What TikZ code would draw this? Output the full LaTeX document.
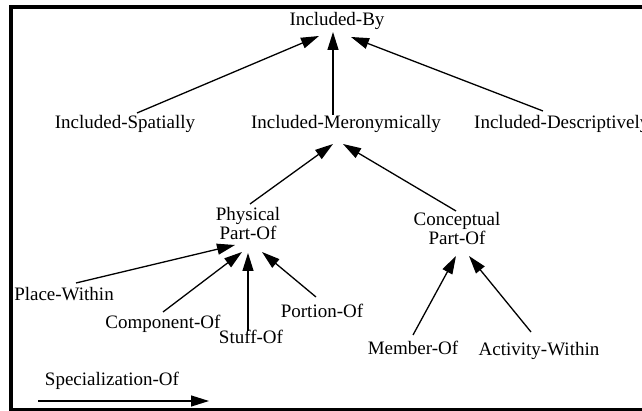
\documentclass[tikz,border=0pt]{standalone}
\usepackage{fontspec}
\setmainfont{Liberation Serif}
\usetikzlibrary{arrows.meta}
\begin{document}
\begin{tikzpicture}[x=1pt,y=1pt,
  lbl/.style={inner sep=0pt, font=\fontsize{19}{19}\selectfont},
  twoline/.style={lbl, align=center},
  isa/.style={-{Triangle[length=18pt,width=11pt]}, line width=1.3pt},
  frame/.style={line width=4pt}]
\useasboundingbox (0,0) rectangle (642,411);
\clip (0,0) rectangle (642,411);

% outer frame (runs past the right edge)
\draw[frame] (11,404) rectangle (700,1);

% hierarchy labels
\node[lbl, anchor=base] (by) at (337,385) {Included-By};
\node[lbl, anchor=base] (sp) at (125,282) {Included-Spatially};
\node[lbl, anchor=base] (mer) at (346,282) {Included-Meronymically};
\node[lbl, anchor=base west] (desc) at (474,282) {Included-Descriptively};
\node[twoline] (phys) at (248,187) {Physical\\Part-Of};
\node[twoline] (conc) at (457,182) {Conceptual\\Part-Of};
\node[lbl, anchor=base] (place) at (64,110) {Place-Within};
\node[lbl, anchor=base] (comp) at (163,82) {Component-Of};
\node[lbl, anchor=base] (stuff) at (251,67) {Stuff-Of};
\node[lbl, anchor=base] (port) at (322,93) {Portion-Of};
\node[lbl, anchor=base] (mem) at (413,56) {Member-Of};
\node[lbl, anchor=base] (act) at (539,55) {Activity-Within};
\node[lbl, anchor=base] (legend) at (112,25) {Specialization-Of};

% specialization links
\draw[isa] ([shift={(12,16)}]sp.base) -- ([shift={(-18,-10)}]by.base);
\draw[isa] ([shift={(-13,14)}]mer.base) -- ([shift={(-4,-6)}]by.base);
\draw[isa] ([shift={(69,18)}]desc.base west) -- ([shift={(14,-11)}]by.base);

\draw[isa] ([shift={(2,20)}]phys.center) -- ([shift={(-13,-15)}]mer.base);
\draw[isa] ([shift={(-1,18)}]conc.center) -- ([shift={(-3,-15)}]mer.base);

\draw[isa] ([shift={(12,18)}]place.base) -- ([shift={(-13,-21)}]phys.center);
\draw[isa] ([shift={(0,17)}]comp.base) -- ([shift={(-6,-28)}]phys.center);
\draw[isa] ([shift={(-3,13)}]stuff.base) -- ([shift={(0,-29)}]phys.center);
\draw[isa] ([shift={(-6,21)}]port.base) -- ([shift={(14,-28)}]phys.center);

\draw[isa] ([shift={(0,20)}]mem.base) -- ([shift={(-1,-27)}]conc.center);
\draw[isa] ([shift={(-8,24)}]act.base) -- ([shift={(12,-27)}]conc.center);

% legend arrow
\coordinate (legA) at ([shift={(-74,-15)}]legend.base);
\coordinate (legB) at ([shift={(97,-15)}]legend.base);
\draw[isa] (legA) -- (legB);
\end{tikzpicture}
\end{document}
